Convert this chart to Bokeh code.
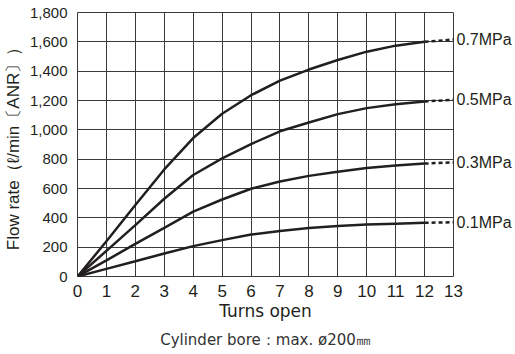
from bokeh.plotting import figure
from bokeh.models import FixedTicker, NumeralTickFormatter, Title, LinearAxis
from bokeh.embed import file_html
from bokeh.resources import INLINE

turns = [0, 1, 2, 3, 4, 5, 6, 7, 8, 9, 10, 11, 12]
turns_ext = [12, 13]

flow_07 = [0, 240, 487, 730, 944, 1110, 1236, 1335, 1411, 1476, 1533, 1574, 1600]
flow_05 = [0, 175, 350, 530, 692, 805, 903, 990, 1050, 1107, 1148, 1175, 1193]
flow_03 = [0, 110, 222, 332, 442, 525, 598, 648, 686, 714, 740, 756, 770]
flow_01 = [0, 52, 104, 157, 207, 248, 286, 310, 330, 345, 354, 360, 366]

ext_07 = [1600, 1616]
ext_05 = [1193, 1205]
ext_03 = [770, 778]
ext_01 = [366, 370]

series_labels = ["0.7MPa", "0.5MPa", "0.3MPa", "0.1MPa"]
x_ticks = list(range(0, 14))
y_ticks = list(range(0, 1801, 200))

INK = "#231f20"
GRID = "#3a3a3a"

p = figure(frame_width=376, frame_height=264, x_range=(0, 13), y_range=(0, 1800),
           output_backend="svg", toolbar_location=None,
           min_border_left=75, min_border_right=61, min_border_top=12, min_border_bottom=70)

p.xaxis.ticker = FixedTicker(ticks=x_ticks)
p.yaxis.ticker = FixedTicker(ticks=y_ticks)
p.yaxis.formatter = NumeralTickFormatter(format="0,0")
for ax in (p.xaxis, p.yaxis):
    ax.major_tick_line_color = None
    ax.minor_tick_line_color = None
    ax.axis_line_color = None
    ax.major_label_text_color = INK
    ax.major_label_text_font = "Liberation Sans"
    ax.axis_label_text_color = INK
    ax.axis_label_text_font_style = "normal"

p.xaxis.major_label_text_font_size = "17px"
p.xaxis.major_label_standoff = 2
p.yaxis.major_label_text_font_size = "15px"
p.yaxis.major_label_standoff = 4

p.xaxis.axis_label = "Turns open"
p.xaxis.axis_label_text_font = "DejaVu Sans"
p.xaxis.axis_label_text_font_size = "17px"
p.xaxis.axis_label_standoff = 1

p.yaxis.axis_label = "Flow rate（ℓ/min〔ANR〕）"
p.yaxis.axis_label_text_font = "Liberation Sans"
p.yaxis.axis_label_text_font_size = "17px"
p.yaxis.axis_label_standoff = 4

p.xgrid.ticker = FixedTicker(ticks=x_ticks)
p.ygrid.ticker = FixedTicker(ticks=y_ticks)
for g in (p.xgrid, p.ygrid):
    g.grid_line_color = GRID
    g.grid_line_alpha = 1.0
    g.grid_line_width = 1
p.outline_line_color = GRID
p.outline_line_alpha = 1.0
p.background_fill_color = "white"
p.border_fill_color = "white"

solid = [flow_07, flow_05, flow_03, flow_01]
dashed = [ext_07, ext_05, ext_03, ext_01]
for ys, ye in zip(solid, dashed):
    p.line(turns, ys, line_color=INK, line_width=2.5)
    p.line(turns_ext, ye, line_color=INK, line_width=2.5, line_dash="4 3")

end_vals = [ye[-1] for ye in dashed]
right_axis = LinearAxis(ticker=FixedTicker(ticks=end_vals),
                        major_label_overrides={v: lab for v, lab in zip(end_vals, series_labels)})
right_axis.major_tick_line_color = None
right_axis.minor_tick_line_color = None
right_axis.axis_line_color = None
right_axis.major_label_standoff = -3
right_axis.major_label_text_font = "Liberation Sans"
right_axis.major_label_text_font_size = "16px"
right_axis.major_label_text_color = INK
p.add_layout(right_axis, "right")

note = Title(text="Cylinder bore：max. ø200㎜", align="center",
             text_font="DejaVu Sans", text_font_size="15px",
             text_color="#333333", text_font_style="normal", standoff=11)
p.add_layout(note, "below")

open("out.html", "w").write(file_html(p, INLINE))
